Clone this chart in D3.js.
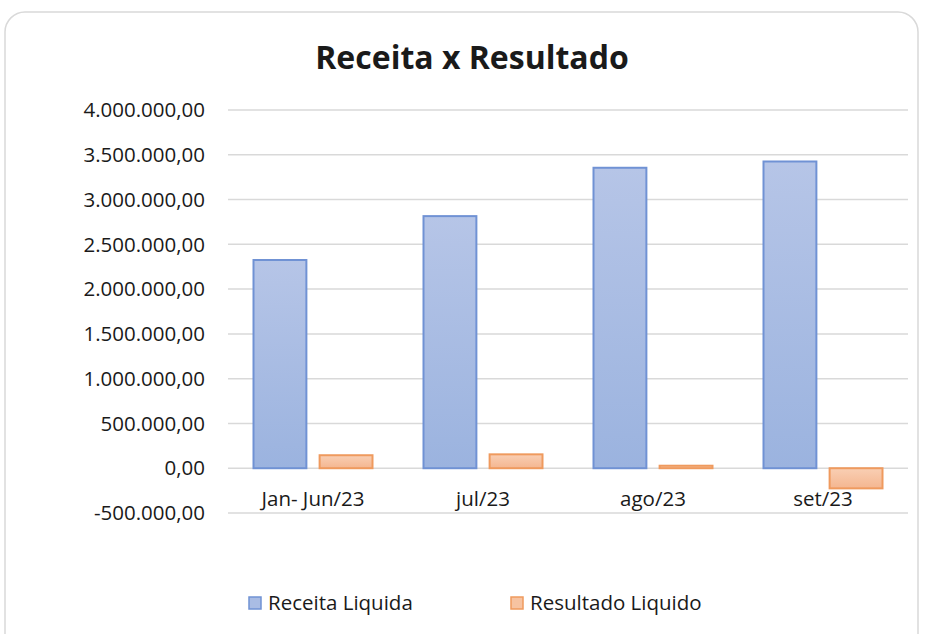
<!DOCTYPE html>
<html>
<head>
<meta charset="utf-8">
<script src="https://cdn.jsdelivr.net/npm/d3@7"></script>
<style>
  body { margin: 0; background: #fff; }
  text { font-family: "Open Sans", "Noto Sans", sans-serif; fill: #1a1a1a; }
</style>
</head>
<body>
<svg id="chart" width="925" height="634"></svg>
<script>
"use strict";
// chart data
const categories = ["Jan- Jun/23", "jul/23", "ago/23", "set/23"];
const seriesNames = ["Receita Liquida", "Resultado Liquido"];
const receita = [2325000, 2815000, 3355000, 3425000];
const resultado = [145000, 155000, 28000, -225000];
const yTicks = [-500000, 0, 500000, 1000000, 1500000, 2000000, 2500000, 3000000, 3500000, 4000000];

(function() {
  const svg = d3.select("#chart");

  // card border
  svg.append("rect")
    .attr("x", 5).attr("y", 12)
    .attr("width", 913).attr("height", 660)
    .attr("rx", 20)
    .attr("fill", "#fff")
    .attr("stroke", "#d9d9d9")
    .attr("stroke-width", 1.5);

  // gradients
  const defs = svg.append("defs");
  function grad(id, top, bottom) {
    const g = defs.append("linearGradient").attr("id", id)
      .attr("x1", 0).attr("y1", 0).attr("x2", 0).attr("y2", 1);
    g.append("stop").attr("offset", "0%").attr("stop-color", top);
    g.append("stop").attr("offset", "100%").attr("stop-color", bottom);
  }
  grad("g-blue", "#b6c5e7", "#9bb3df");
  grad("g-orange", "#f9cfb4", "#f4b690");

  const colors = [
    { fill: "url(#g-blue)", stroke: "#7092d4", swatch: "#a9bce4" },
    { fill: "url(#g-orange)", stroke: "#ef9a5e", swatch: "#f7c3a1" }
  ];

  const left = 228, right = 908;
  const y = d3.scaleLinear().domain([-500000, 4000000]).range([513, 110]);

  const x0 = d3.scaleBand().domain(categories).range([left, right]).paddingInner(0.3).paddingOuter(0.15);
  const x1 = d3.scaleBand().domain(seriesNames).range([0, x0.bandwidth()]).paddingInner(0.2);

  const fmt = v => {
    const s = d3.format(",.2f")(v);
    return s.replace(/,/g, "#").replace(".", ",").replace(/#/g, ".").replace("−", "-");
  };

  // gridlines + y labels
  const yAxis = svg.append("g");
  yAxis.selectAll("line").data(yTicks).join("line")
    .attr("x1", left).attr("x2", right)
    .attr("y1", d => y(d)).attr("y2", d => y(d))
    .attr("stroke", "#d9d9d9").attr("stroke-width", 1.5);
  yAxis.selectAll("text").data(yTicks).join("text")
    .attr("x", 205).attr("y", d => y(d))
    .attr("dy", "0.35em")
    .attr("text-anchor", "end")
    .style("font-size", "20.5px")
    .text(d => fmt(d));

  // bars
  const rows = categories.map((c, i) => ({ cat: c, vals: [receita[i], resultado[i]] }));
  const groups = svg.append("g").selectAll("g").data(rows).join("g")
    .attr("transform", d => "translate(" + x0(d.cat) + ",0)");
  groups.selectAll("rect")
    .data(d => d.vals.map((v, k) => ({ v: v, k: k })))
    .join("rect")
    .attr("x", d => x1(seriesNames[d.k]))
    .attr("width", x1.bandwidth())
    .attr("y", d => y(Math.max(0, d.v)))
    .attr("height", d => Math.abs(y(d.v) - y(0)))
    .attr("fill", d => colors[d.k].fill)
    .attr("stroke", d => colors[d.k].stroke)
    .attr("stroke-width", 2);

  // x labels
  svg.append("g").selectAll("text").data(categories).join("text")
    .attr("x", d => x0(d) + x0.bandwidth() / 2)
    .attr("y", 499).attr("dy", "0.35em")
    .attr("text-anchor", "middle")
    .style("font-size", "20.5px")
    .text(d => d);

  // title
  svg.append("text")
    .attr("x", 472).attr("y", 58).attr("dy", "0.35em")
    .attr("text-anchor", "middle")
    .style("font-size", "32px").style("font-weight", "bold")
    .text("Receita x Resultado");

  // legend
  const legendX = [249, 511];
  const leg = svg.append("g").selectAll("g").data(seriesNames).join("g")
    .attr("transform", (d, i) => "translate(" + legendX[i] + ",597)");
  leg.append("rect")
    .attr("width", 12).attr("height", 12)
    .attr("fill", (d, i) => colors[i].swatch)
    .attr("stroke", (d, i) => colors[i].stroke)
    .attr("stroke-width", 1.5);
  leg.append("text")
    .attr("x", 19).attr("y", 6).attr("dy", "0.35em")
    .style("font-size", "20.5px")
    .text(d => d);
})();
</script>
</body>
</html>
